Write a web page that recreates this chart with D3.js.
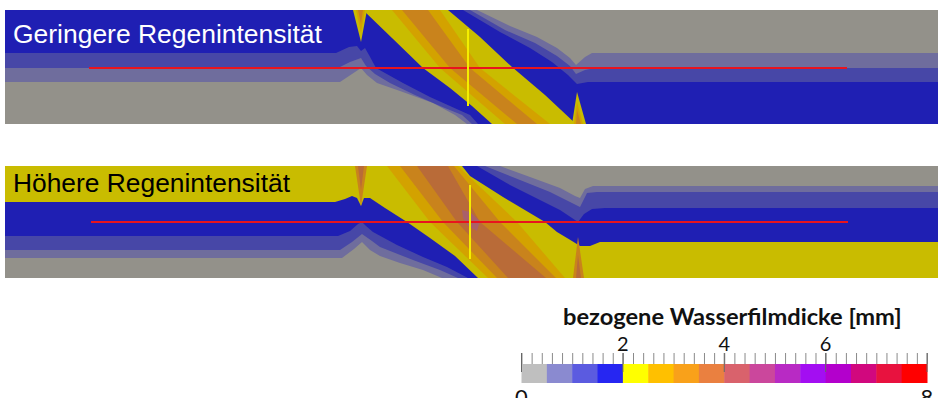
<!DOCTYPE html>
<html>
<head>
<meta charset="utf-8">
<script src="https://cdn.jsdelivr.net/npm/d3@7"></script>
<style>
  body { margin: 0; background: #fff; }
  svg { display: block; }
</style>
</head>
<body>
<svg id="chart" width="938" height="398"></svg>
<script>
// legend classes: water film thickness in mm, 0.5 mm bins
const legendBins = [0, 0.5, 1, 1.5, 2, 2.5, 3, 3.5, 4, 4.5, 5, 5.5, 6, 6.5, 7, 7.5, 8];
const legendColors = ['#bfbfbf', '#8a8ad0', '#5b5be0', '#2626f2', '#ffff00', '#ffc000', '#f9a11a', '#ea8040',
  '#d9626c', '#cb479c', '#b82ac4', '#a30ef2', '#b300cc', '#d1087e', '#e8123f', '#ff0000'];
const legendLabelsTop = [2, 4, 6];
const legendLabelsBottom = [0, 8];
const legendTitle = 'bezogene Wasserfilmdicke [mm]';

// shaded colours of the same classes as they appear on the road surface
const surfaceColors = ['#93918a', '#6f6d9d', '#4747a7', '#1f1fb3', '#c9bc00', '#d3a200', '#c9831c', '#b96b38', '#a9606a'];

const panelTitles = ['Geringere Regenintensität', 'Höhere Regenintensität'];

// regions per class: [class, [[station m, lateral m], ...]]
const lowRain = [
  [1, [[0,0],[47.2,0],[50.5,1.6],[53.2,2.7],[55.2,3.8],[56.5,4.8],[57.1,5.5],[58,4.7],[58.7,4.3],[93.3,4.3],[93.3,11.4],
       [46.2,11.4],[45,10.5],[42.8,9.3],[39.5,8.1],[37.2,7.3],[36.2,6.5],[35.6,5.8],[34.7,6.4],[33.5,7.2],[0,7.2]]],
  [2, [[0,0],[46.5,0],[50,2],[53,3.3],[55.2,4.6],[56.5,5.6],[57.1,6.4],[58,6],[59,5.8],[93.3,5.8],[93.3,11.4],
       [46.7,11.4],[45.7,10.5],[43.5,9.6],[41,8.5],[38.5,7.3],[37,6.4],[36.1,5.6],[35.6,4.8],[34.5,5.2],[33.3,5.8],[0,5.8]]],
  [3, [[0,0],[45.8,0],[49.5,2.2],[52.5,3.8],[54.7,5.2],[56.3,6.5],[57.2,7.4],[58.3,7.2],[59.5,7.2],[93.3,7.2],[93.3,11.4],
       [47.3,11.4],[46.5,10.5],[42.5,8.7],[39.8,7.3],[37.1,5.8],[36.4,4.5],[36,3.8],[35.6,4.1],[35.2,3.6],[34.4,3.7],[33.1,4.3],[0,4.3]]],
  [4, [[35.8,0],[44.3,0],[47.5,2.7],[50.7,5.7],[54,8.5],[57.1,11.4],[48.7,11.4],[46.7,9.6],[44.5,7.8],[41.8,5.8],[38.7,2.8]]],
  [4, [[34.8,0],[36.2,0],[35.6,3.2]]],
  [4, [[56.7,11.4],[58.1,11.4],[57.2,8.2]]],
  [5, [[38.7,0],[43.5,0],[47.5,5.8],[54.5,11.4],[50,11.4],[43.5,5.8]]],
  [5, [[35.1,0],[36,0],[35.6,2.3]]],
  [5, [[56.9,11.4],[57.8,11.4],[57.2,9.2]]],
  [6, [[39.7,0],[42.3,0],[46.5,5.8],[53.2,11.4],[51.2,11.4],[44.5,5.8]]],
  [6, [[35.3,0],[35.8,0],[35.6,1.4]]],
  [6, [[57.1,11.4],[57.6,11.4],[57.2,10]]]
];

const highRain = [
  [1, [[0,0],[49.5,0],[52.5,1.1],[55.5,2.2],[57,3],[57.5,3.2],[58,2.3],[58.8,2],[93.3,2],[93.3,11.2],
       [43.7,11.2],[41.8,10.4],[39.5,9.7],[37.5,9],[36.5,8.4],[35.7,7.6],[34.9,8.3],[33.7,9.2],[0,9.2]]],
  [2, [[0,0],[48,0],[51.5,1.4],[54.5,2.6],[56.5,3.6],[57.5,4.1],[58.2,2.7],[59.2,2.6],[93.3,2.6],[93.3,11.2],
       [45.3,11.2],[43.5,10.4],[40.8,9.4],[37.5,8.1],[36.7,7.5],[35.7,6.8],[34.7,7.6],[33.5,8.4],[0,8.4]]],
  [3, [[0,0],[47.2,0],[50.5,1.9],[53.5,3.4],[55.5,4.4],[56.7,5.2],[57.3,5.6],[57.9,4.8],[58.7,4.3],[60,4.2],[93.3,4.2],[93.3,11.2],
       [46.3,11.2],[44.2,10.1],[41.8,9.1],[39.2,7.9],[36.8,6.6],[36.1,6],[35.7,5.6],[35.3,5.8],[34.5,6.5],[33.3,7],[0,7]]],
  [4, [[0,0],[45.7,0],[46.5,1],[49.8,3.1],[54,5.6],[55.2,6.6],[56.7,7.5],[57.5,8],[58.5,8],[59.5,7.6],[93.3,7.6],[93.3,11.2],
       [47.3,11.2],[45,9],[42.5,7.2],[40.2,5.6],[38,4.2],[36.5,3.2],[35.9,3.2],[35.6,4],[35.2,3.2],[34.7,3],[34,3.3],[33,3.6],[0,3.6]]],
  [5, [[38.2,0],[45.3,0],[51.2,5.6],[56,11.2],[48.3,11.2],[42.5,5.6]]],
  [6, [[39.5,0],[44.9,0],[49.5,5.6],[55.1,11.2],[49.2,11.2],[43.8,5.6]]],
  [6, [[35,0],[36.2,0],[35.6,4]]],
  [6, [[56.8,11.2],[57.9,11.2],[57.3,7.1]]],
  [7, [[41.2,0],[44.3,0],[47.5,5.6],[54.1,11.2],[50.3,11.2],[45.2,5.6]]],
  [7, [[35.3,0],[35.9,0],[35.6,2.4]]],
  [7, [[57.1,11.2],[57.6,11.2],[57.3,8.9]]],
  [8, [[45.7,4.4],[46.5,4.6],[47.5,5.5],[47.2,6.5],[46.3,6],[45.8,5.2]]]
];

// evaluation lines: [from station, to station, lateral] and cross sections [station, from lateral, to lateral]
const profileLines = [[8.4, 84.2, 5.8], [8.6, 84.3, 5.6]];
const crossSections = [[46.3, 1.9, 9.6], [46.5, 1.9, 9.3]];

const svg = d3.select('#chart');
svg.append('rect').attr('width', 938).attr('height', 398).attr('fill', '#fff');

const x = d3.scaleLinear().domain([0, 93.3]).range([5, 938]);

const panels = [
  { regions: lowRain, y: d3.scaleLinear().domain([0, 11.4]).range([10, 124]), titleColor: '#fff', baseline: 43, titleWidth: 309 },
  { regions: highRain, y: d3.scaleLinear().domain([0, 11.2]).range([166, 278]), titleColor: '#000', baseline: 192, titleWidth: 277 }
];

function fitWidth(sel, width) {
  const w = sel.node().getComputedTextLength();
  const fs = parseFloat(sel.attr('font-size'));
  sel.attr('font-size', fs * width / w);
}

panels.forEach((p, i) => {
  const y = p.y;
  const g = svg.append('g');
  const clipId = 'clip' + i;
  g.append('clipPath').attr('id', clipId)
    .append('rect')
    .attr('x', x(0)).attr('y', y(0))
    .attr('width', x(93.3) - x(0)).attr('height', y.range()[1] - y.range()[0]);

  const body = g.append('g').attr('clip-path', `url(#${clipId})`);

  // base class covers the whole surface
  body.append('rect')
    .attr('x', x(0)).attr('y', y(0))
    .attr('width', x(93.3) - x(0)).attr('height', y.range()[1] - y.range()[0])
    .attr('fill', surfaceColors[0]);

  const line = d3.line().x(d => x(d[0])).y(d => y(d[1]));
  const sorted = p.regions.slice().sort((a, b) => a[0] - b[0]);
  body.selectAll('path.band')
    .data(sorted)
    .enter()
    .append('path')
    .attr('class', 'band')
    .attr('d', d => line(d[1]) + 'Z')
    .attr('fill', d => surfaceColors[d[0]]);

  // profile line
  const pl = profileLines[i];
  body.append('line')
    .attr('x1', x(pl[0])).attr('x2', x(pl[1]))
    .attr('y1', y(pl[2])).attr('y2', y(pl[2]))
    .attr('stroke', '#e8141e').attr('stroke-width', 2);

  // cross section
  const cs = crossSections[i];
  body.append('line')
    .attr('x1', x(cs[0])).attr('x2', x(cs[0]))
    .attr('y1', y(cs[1])).attr('y2', y(cs[2]))
    .attr('stroke', '#f4ee00').attr('stroke-width', 2);

  const t = g.append('text')
    .attr('x', 13).attr('y', p.baseline)
    .attr('font-family', '"Liberation Sans", Arial, sans-serif')
    .attr('font-size', 25)
    .attr('fill', p.titleColor)
    .text(panelTitles[i]);
  fitWidth(t, p.titleWidth);
});

// legend
const lx = d3.scaleLinear().domain([0, 8]).range([521.5, 927]);
const legend = svg.append('g');

legend.selectAll('rect.bin')
  .data(legendColors)
  .enter()
  .append('rect')
  .attr('class', 'bin')
  .attr('x', (d, i) => lx(legendBins[i]))
  .attr('y', 364)
  .attr('width', (d, i) => lx(legendBins[i + 1]) - lx(legendBins[i]) + 0.5)
  .attr('height', 19)
  .attr('fill', d => d);

const minorTicks = d3.range(0, 8.001, 0.2);
const tickAxis = legend.append('g')
  .attr('transform', 'translate(0,364)')
  .call(d3.axisTop(lx).tickValues(minorTicks).tickSize(11).tickFormat(''));
tickAxis.select('.domain').remove();
tickAxis.selectAll('.tick line').attr('stroke', '#8a8a8a');

legend.selectAll('line.major')
  .data([0, 2, 4, 6, 8])
  .enter()
  .append('line')
  .attr('class', 'major')
  .attr('x1', d => lx(d)).attr('x2', d => lx(d))
  .attr('y1', 353).attr('y2', 372)
  .attr('stroke', '#666').attr('stroke-width', 1);

legend.selectAll('text.top')
  .data(legendLabelsTop)
  .enter()
  .append('text')
  .attr('class', 'top')
  .attr('x', d => lx(d)).attr('y', 351)
  .attr('text-anchor', 'middle')
  .attr('font-family', 'Lato, "Open Sans", sans-serif')
  .attr('font-size', 20)
  .attr('fill', '#111')
  .text(d => d);

legend.selectAll('text.bottom')
  .data(legendLabelsBottom)
  .enter()
  .append('text')
  .attr('class', 'bottom')
  .attr('x', d => lx(d)).attr('y', 405)
  .attr('text-anchor', 'middle')
  .attr('font-family', 'Lato, "Open Sans", sans-serif')
  .attr('font-size', 22)
  .attr('fill', '#111')
  .text(d => d);

const lt = legend.append('text')
  .attr('x', 563).attr('y', 325)
  .attr('font-family', 'Lato, "Open Sans", sans-serif')
  .attr('font-weight', 'bold')
  .attr('font-size', 22)
  .attr('fill', '#111')
  .text(legendTitle);
fitWidth(lt, 339);
</script>
</body>
</html>
